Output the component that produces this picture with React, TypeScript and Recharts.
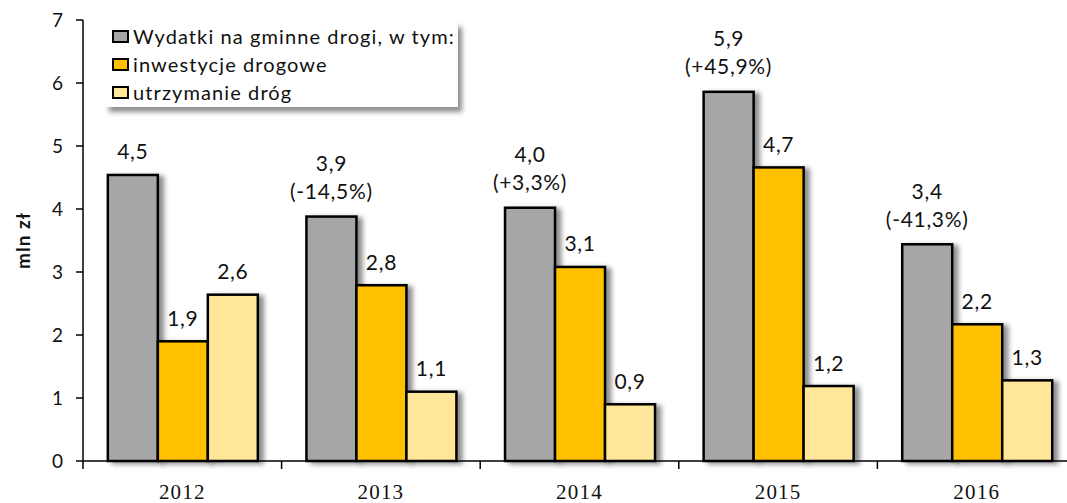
import React from "react";
import { BarChart, Bar, XAxis, YAxis, LabelList } from "recharts";

const categories = ["2012", "2013", "2014", "2015", "2016"];
const totalSpending = [4.54, 3.88, 4.02, 5.86, 3.44];
const roadInvestment = [1.9, 2.79, 3.08, 4.66, 2.17];
const roadMaintenance = [2.64, 1.1, 0.9, 1.19, 1.28];
const changeLabels = ["", "(-14,5%)", "(+3,3%)", "(+45,9%)", "(-41,3%)"];
const yTicks = [0, 1, 2, 3, 4, 5, 6, 7];

const seriesNames = [
  "Wydatki na gminne drogi, w tym:",
  "inwestycje drogowe",
  "utrzymanie dróg",
];
const colors = ["#A6A6A6", "#FFC000", "#FFE699"];

const data = categories.map((c, i) => ({
  year: c,
  total: totalSpending[i],
  invest: roadInvestment[i],
  maint: roadMaintenance[i],
  change: changeLabels[i],
}));

const FONT = "Lato, 'Noto Sans', sans-serif";
const fmt = (v: number) => v.toFixed(1).replace(".", ",");

const ShadowRect = (props: any) => {
  const { x, y, width, height, fill } = props;
  return (
    <rect
      x={x}
      y={y}
      width={width}
      height={height}
      fill={fill}
      stroke="#000"
      strokeWidth={2.5}
      filter="url(#barShadow)"
    />
  );
};

const labelStyle = {
  fontFamily: FONT,
  fontSize: 21,
  fill: "#111",
  letterSpacing: 0.7,
};

const ValueLabel = (props: any) => {
  const { x, y, width, value, index, withChange } = props;
  const cx = x + width / 2;
  const change = withChange ? changeLabels[index] : "";
  if (change) {
    return (
      <g>
        <text x={cx} y={y - 54} textAnchor="middle" dominantBaseline="central" style={labelStyle}>
          {fmt(value)}
        </text>
        <text x={cx} y={y - 26} textAnchor="middle" dominantBaseline="central" style={labelStyle}>
          {change}
        </text>
      </g>
    );
  }
  return (
    <text x={cx} y={y - 24} textAnchor="middle" dominantBaseline="central" style={labelStyle}>
      {fmt(value)}
    </text>
  );
};

const XTick = (props: any) => {
  const { x, y, width, payload } = props;
  const band = width / categories.length;
  const lx = x - band / 2;
  return (
    <g>
      <line x1={lx} y1={y} x2={lx} y2={y + 8} stroke="#000" strokeWidth={1.5} />
      <text
        x={x}
        y={y + 31}
        textAnchor="middle"
        dominantBaseline="central"
        fontFamily="'Liberation Serif', 'DejaVu Serif', serif"
        fontSize={21}
        letterSpacing={1.2}
        fill="#111"
      >
        {payload.value}
      </text>
    </g>
  );
};

const YLabel = (props: any) => {
  const vb = props.viewBox || { x: 0, y: 20, width: 83, height: 441 };
  const cx = vb.x + 22;
  const cy = vb.y + vb.height / 2;
  return (
    <text
      x={cx}
      y={cy}
      transform={`rotate(-90, ${cx}, ${cy})`}
      textAnchor="middle"
      dominantBaseline="central"
      fontFamily={FONT}
      fontSize={19}
      fontWeight={700}
      letterSpacing={1}
      fill="#111"
    >
      mln zł
    </text>
  );
};

const LegendBox = () => (
  <div
    style={{
      position: "absolute",
      left: 105,
      top: 22,
      width: 353,
      height: 85,
      background: "#fff",
      boxShadow: "4px 5px 5px rgba(0,0,0,0.45)",
      boxSizing: "border-box",
      paddingLeft: 7,
      paddingTop: 0,
      fontFamily: FONT,
      fontSize: 20,
      letterSpacing: 1.1,
      color: "#111",
    }}
  >
    {seriesNames.map((n, i) => (
      <div key={n} style={{ display: "flex", alignItems: "center", height: 28 }}>
        <span
          style={{
            display: "inline-block",
            width: 17,
            height: 13,
            background: colors[i],
            border: "2px solid #000",
            boxSizing: "border-box",
            marginRight: 4,
            flexShrink: 0,
          }}
        />
        <span style={{ whiteSpace: "nowrap" }}>{n}</span>
      </div>
    ))}
  </div>
);

export default function App() {
  return (
    <div style={{ position: "absolute", left: 0, top: 0, width: 1067, height: 503, overflow: "hidden", background: "#fff" }}>
      <BarChart
        width={1080}
        height={503}
        data={data}
        margin={{ top: 20, right: 4, bottom: 0, left: 0 }}
        barCategoryGap="12.5%"
        barGap={0}
      >
        <defs>
          <filter id="barShadow" x="-20%" y="-10%" width="150%" height="130%">
            <feDropShadow dx={5} dy={2} stdDeviation={2.5} floodColor="#000" floodOpacity={0.45} />
          </filter>
        </defs>
        <XAxis
          dataKey="year"
          height={42}
          tickSize={0}
          tickMargin={0}
          axisLine={{ stroke: "#000", strokeWidth: 1.5 }}
          tickLine={false}
          tick={<XTick />}
          interval={0}
        />
        <YAxis
          width={83}
          domain={[0, 7]}
          ticks={yTicks}
          interval={0}
          tickSize={7}
          tickMargin={13}
          axisLine={{ stroke: "#000", strokeWidth: 1.5 }}
          tickLine={{ stroke: "#000", strokeWidth: 1.5 }}
          tick={{ fontFamily: FONT, fontSize: 19, fill: "#111" }}
          label={<YLabel />}
        />
        <Bar dataKey="total" fill={colors[0]} isAnimationActive={false} shape={<ShadowRect />}>
          <LabelList dataKey="total" content={<ValueLabel withChange />} />
        </Bar>
        <Bar dataKey="invest" fill={colors[1]} isAnimationActive={false} shape={<ShadowRect />}>
          <LabelList dataKey="invest" content={<ValueLabel />} />
        </Bar>
        <Bar dataKey="maint" fill={colors[2]} isAnimationActive={false} shape={<ShadowRect />}>
          <LabelList dataKey="maint" content={<ValueLabel />} />
        </Bar>
      </BarChart>
      <LegendBox />
    </div>
  );
}
